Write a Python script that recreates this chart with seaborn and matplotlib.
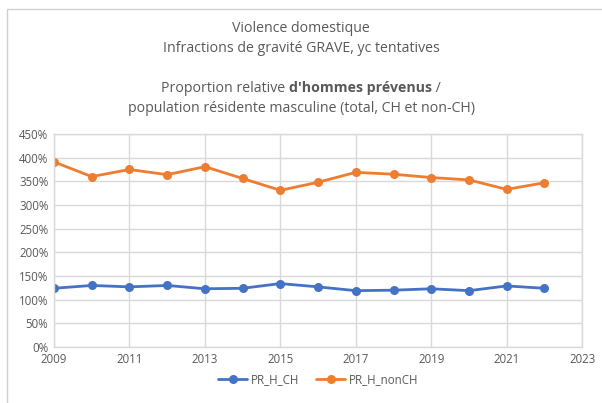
import pandas as pd
import seaborn as sns
import matplotlib.pyplot as plt
from matplotlib.ticker import PercentFormatter, MultipleLocator, FixedLocator
from matplotlib.patches import Rectangle

# Values (% of resident male population)
years = list(range(2009, 2023))
pr_h_ch = [124, 130, 127, 130, 123, 124, 134, 127, 119, 120, 123, 119, 129, 124]
pr_h_nonch = [391, 360, 375, 364, 381, 356, 331, 348, 369, 365, 358, 353, 333, 347]
series_names = ["PR_H_CH", "PR_H_nonCH"]
x_ticks = list(range(2009, 2024, 2))

df = pd.DataFrame({
    "Année": years * 2,
    "Valeur": pr_h_ch + pr_h_nonch,
    "Série": [series_names[0]] * len(years) + [series_names[1]] * len(years),
})

sns.set_style("white")
plt.rcParams["font.family"] = ["Open Sans", "DejaVu Sans"]
grey = "#595959"
grid = "#d9d9d9"

fig = plt.figure(figsize=(6.02, 4.03), dpi=100)
ax = fig.add_axes([0.0897, 0.139, 0.8773, 0.5285])

sns.lineplot(data=df, x="Année", y="Valeur", hue="Série", hue_order=series_names,
             palette=["#4472C4", "#ED7D31"], marker="o", markersize=6.5,
             markeredgewidth=0, linewidth=2, ax=ax, legend=True)

ax.set_xlim(2009, 2023)
ax.set_ylim(0, 450)
ax.xaxis.set_major_locator(FixedLocator(x_ticks))
ax.yaxis.set_major_locator(MultipleLocator(50))
ax.yaxis.set_major_formatter(PercentFormatter(decimals=0))
ax.grid(True, color=grid, linewidth=1)
ax.set_axisbelow(True)
for s in ax.spines.values():
    s.set_color(grid)
    s.set_linewidth(1)
ax.tick_params(axis="both", length=0, labelsize=8.3, labelcolor=grey, pad=4)
ax.set_xlabel("")
ax.set_ylabel("")

handles, labels = ax.get_legend_handles_labels()
ax.legend(handles, labels, loc="center", bbox_to_anchor=(0.5, -0.155), ncol=2,
          frameon=False, fontsize=8.3, labelcolor=grey, handlelength=2.5,
          columnspacing=1.5, handletextpad=0.3)

# chart border
fig.patches.append(Rectangle((7 / 602, -0.1), 1.2, 1 - 9 / 403 + 0.1,
                             transform=fig.transFigure, fill=False,
                             edgecolor="#d0d0d0", linewidth=1))

ts = 10.2
fig.text(0.5, 1 - 28 / 403, "Violence domestique", ha="center", va="center",
         fontsize=ts, color=grey)
fig.text(0.5, 1 - 48 / 403, "Infractions de gravité GRAVE, yc tentatives",
         ha="center", va="center", fontsize=ts, color=grey)
fig.text(0.5, 1 - 108 / 403, "population résidente masculine (total, CH et non-CH)",
         ha="center", va="center", fontsize=ts, color=grey)

# mixed-weight line
parts = [("Proportion relative ", "normal"), ("d'hommes prévenus", "bold"), (" /", "normal")]
renderer = fig.canvas.get_renderer()
texts = [fig.text(0, 1 - 88 / 403, p, ha="left", va="center", fontsize=ts,
                  color=grey, fontweight=w) for p, w in parts]
widths = [t.get_window_extent(renderer).width / fig.bbox.width for t in texts]
x = 0.5 - sum(widths) / 2
for t, w in zip(texts, widths):
    t.set_x(x)
    x += w

fig.savefig("out.png", dpi=100)
